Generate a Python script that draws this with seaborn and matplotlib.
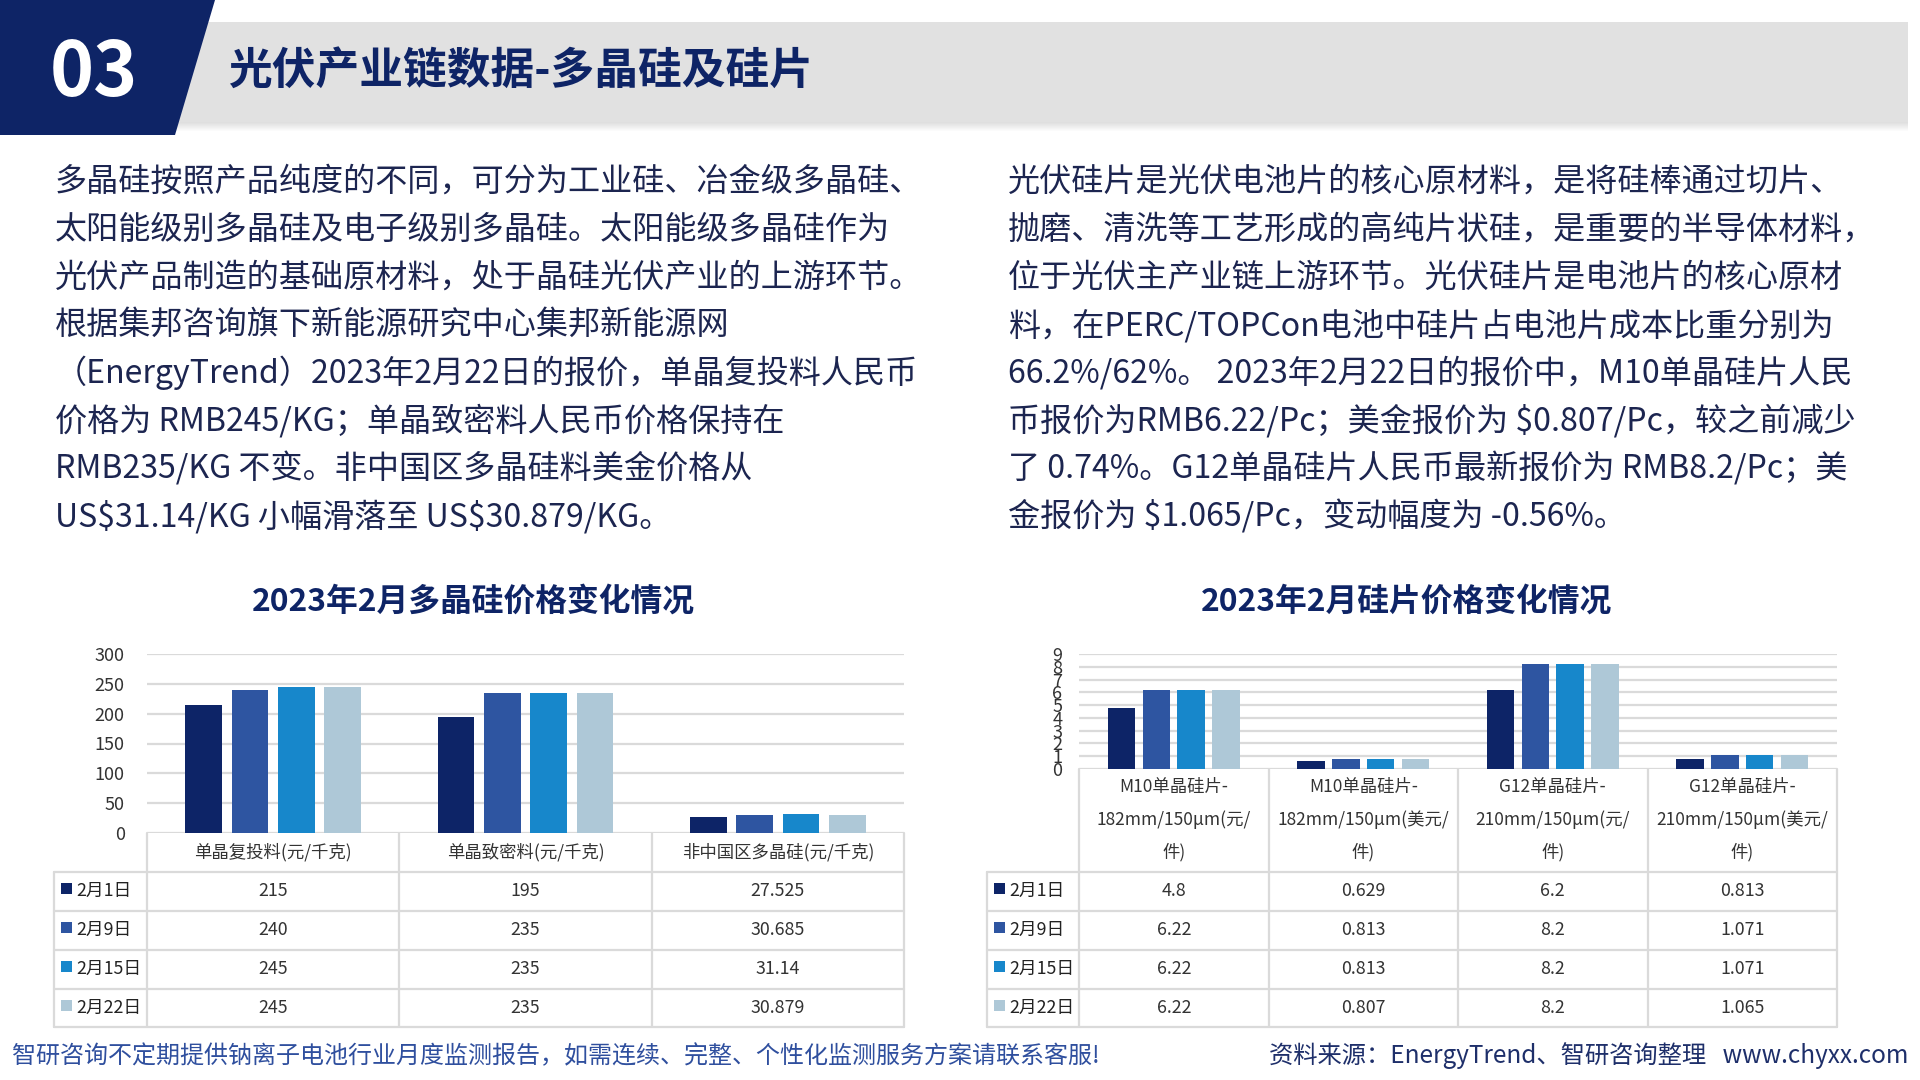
import numpy as np
import pandas as pd
import matplotlib
matplotlib.use("Agg")
import matplotlib.pyplot as plt
import seaborn as sns
from matplotlib.patches import Polygon, Rectangle

# data
dates = ['2月1日', '2月9日', '2月15日', '2月22日']

poly_cats = ['单晶复投料(元/千克)', '单晶致密料(元/千克)', '非中国区多晶硅(元/千克)']
poly_0201 = [215, 195, 27.525]
poly_0209 = [240, 235, 30.685]
poly_0215 = [245, 235, 31.14]
poly_0222 = [245, 235, 30.879]

wafer_cats = ['M10单晶硅片-\n182mm/150μm(元/\n件)', 'M10单晶硅片-\n182mm/150μm(美元/\n件)',
              'G12单晶硅片-\n210mm/150μm(元/\n件)', 'G12单晶硅片-\n210mm/150μm(美元/\n件)']
wafer_0201 = [4.8, 0.629, 6.2, 0.813]
wafer_0209 = [6.22, 0.813, 8.2, 1.071]
wafer_0215 = [6.22, 0.813, 8.2, 1.071]
wafer_0222 = [6.22, 0.807, 8.2, 1.065]

poly_ticks = [0, 50, 100, 150, 200, 250, 300]
wafer_ticks = list(range(0, 10))

colors = ['#0d2467', '#2e55a1', '#1787cb', '#aec8d7']
NAVY = '#0e2466'
TXT = '#1c2550'
GRID = '#dadada'

left_text = [
    '多晶硅按照产品纯度的不同，可分为工业硅、冶金级多晶硅、',
    '太阳能级别多晶硅及电子级别多晶硅。太阳能级多晶硅作为',
    '光伏产品制造的基础原材料，处于晶硅光伏产业的上游环节。',
    '根据集邦咨询旗下新能源研究中心集邦新能源网',
    '（EnergyTrend）2023年2月22日的报价，单晶复投料人民币',
    '价格为 RMB245/KG；单晶致密料人民币价格保持在',
    'RMB235/KG 不变。非中国区多晶硅料美金价格从',
    'US$31.14/KG 小幅滑落至 US$30.879/KG。',
]
right_text = [
    '光伏硅片是光伏电池片的核心原材料，是将硅棒通过切片、',
    '抛磨、清洗等工艺形成的高纯片状硅，是重要的半导体材料，',
    '位于光伏主产业链上游环节。光伏硅片是电池片的核心原材',
    '料，在PERC/TOPCon电池中硅片占电池片成本比重分别为',
    '66.2%/62%。 2023年2月22日的报价中，M10单晶硅片人民',
    '币报价为RMB6.22/Pc；美金报价为 $0.807/Pc，较之前减少',
    '了 0.74%。G12单晶硅片人民币最新报价为 RMB8.2/Pc；美',
    '金报价为 $1.065/Pc，变动幅度为 -0.56%。',
]

sns.set_theme(style='white')
plt.rcParams['font.family'] = ['Noto Sans CJK SC', 'DejaVu Sans']
plt.rcParams['text.parse_math'] = False

W, H = 1920, 1080
fig = plt.figure(figsize=(19.2, 10.8), dpi=100)
fig.patch.set_facecolor('white')

# page layer in pixel coordinates
bg = fig.add_axes([0, 0, 1, 1], zorder=0)
bg.set_xlim(0, W)
bg.set_ylim(H, 0)
bg.axis('off')

# header
for i in range(9):
    bg.add_patch(Rectangle((150, 122 + i), 1758, 1, color='#b8b8b8', alpha=0.45 * (1 - i / 9), lw=0))
bg.add_patch(Rectangle((150, 22), 1758, 100, color='#e1e1e1', lw=0))
bg.add_patch(Polygon([(0, 0), (215, 0), (175, 135), (0, 135)], closed=True, color=NAVY, lw=0))
bg.text(94, 74, '03', color='white', fontsize=54, fontweight='bold', ha='center', va='center')
bg.text(228, 71, '光伏产业链数据-多晶硅及硅片', color=NAVY, fontsize=31.5, fontweight='bold',
        ha='left', va='center')

# paragraphs
for i, line in enumerate(left_text):
    bg.text(55, 182 + i * 47.75, line, fontsize=23.1, color=TXT, ha='left', va='center')
for i, line in enumerate(right_text):
    bg.text(1008, 182 + i * 47.75, line, fontsize=23.1, color=TXT, ha='left', va='center')

# footer
bg.text(12, 1056, '智研咨询不定期提供钠离子电池行业月度监测报告，如需连续、完整、个性化监测服务方案请联系客服!',
        fontsize=17.3, color='#2f4f9e', ha='left', va='center')
bg.text(1908, 1056, '资料来源：EnergyTrend、智研咨询整理   www.chyxx.com',
        fontsize=17.5, color='#1e2f6a', ha='right', va='center')

row_edges = [872, 910.5, 949.5, 988.5, 1027]


def draw_chart(x0, x1, y_top, y_base, table_left, cats, series, ticks, title, title_x, tick_pad):
    rows = []
    for d, vals in zip(dates, series):
        for c, v in zip(cats, vals):
            rows.append({'cat': c, 'date': d, 'val': v})
    df = pd.DataFrame(rows)

    ax = fig.add_axes([x0 / W, 1 - y_base / H, (x1 - x0) / W, (y_base - y_top) / H], zorder=2)
    ax.patch.set_alpha(0)
    sns.barplot(data=df, x='cat', y='val', hue='date', order=cats, hue_order=dates,
                palette=colors, saturation=1, width=0.735, gap=0.21, errorbar=None,
                legend=False, linewidth=0, ax=ax)
    ax.set_ylim(ticks[0], ticks[-1])
    ax.set_yticks(ticks)
    ax.set_yticklabels([str(t) for t in ticks], fontsize=13, color='#333333')
    ax.set_xticks([])
    ax.set_xlabel('')
    ax.set_ylabel('')
    ax.tick_params(axis='y', length=0, pad=tick_pad)
    for s in ax.spines.values():
        s.set_visible(False)
    ax.set_axisbelow(True)
    ax.yaxis.grid(True, color=GRID, lw=1.6)

    # title
    bg.text(title_x, 602, title, fontsize=22.9, fontweight='bold', color=NAVY, ha='center', va='center')

    # data table under the plot
    n = len(cats)
    edges = [x0 + (x1 - x0) * k / n for k in range(n + 1)]
    for e in edges:
        bg.plot([e, e], [y_base, row_edges[-1]], color=GRID, lw=1.6)
    bg.plot([table_left, table_left], [row_edges[0], row_edges[-1]], color=GRID, lw=1.6)
    for r in row_edges:
        bg.plot([table_left, x1], [r, r], color=GRID, lw=1.6)

    # category header cells
    for k, c in enumerate(cats):
        xc = (edges[k] + edges[k + 1]) / 2
        lines = c.split('\n')
        if len(lines) == 1:
            bg.text(xc, (y_base + row_edges[0]) / 2, c, fontsize=12.5, color='#333333',
                    ha='center', va='center')
        else:
            for j, ln in enumerate(lines):
                bg.text(xc, 787 + j * 32.5, ln, fontsize=12.5, color='#333333',
                        ha='center', va='center')

    # rows with legend keys
    for i, (d, vals) in enumerate(zip(dates, series)):
        yc = (row_edges[i] + row_edges[i + 1]) / 2
        bg.add_patch(Rectangle((table_left + 7, yc - 8), 11, 11, color=colors[i], lw=0))
        bg.text(table_left + 22, yc, d, fontsize=12.8, color='#222222', ha='left', va='center')
        for k, v in enumerate(vals):
            xc = (edges[k] + edges[k + 1]) / 2
            bg.text(xc, yc, f'{v:g}', fontsize=12.8, color='#333333', ha='center', va='center')
    return ax


draw_chart(147, 904, 654, 833, 54, poly_cats,
           [poly_0201, poly_0209, poly_0215, poly_0222], poly_ticks,
           '2023年2月多晶硅价格变化情况', 473, 16)
draw_chart(1079, 1837, 654, 769, 987, wafer_cats,
           [wafer_0201, wafer_0209, wafer_0215, wafer_0222], wafer_ticks,
           '2023年2月硅片价格变化情况', 1406, 12)

plt.savefig('out.png', dpi=100, facecolor='white')
